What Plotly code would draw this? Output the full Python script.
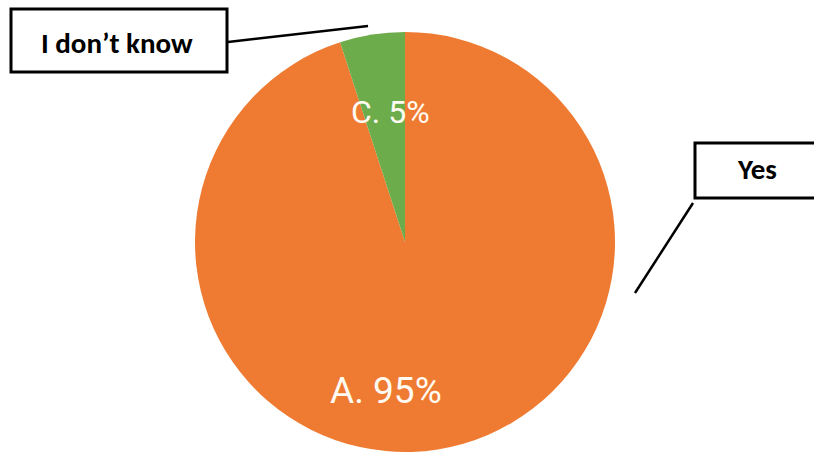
import plotly.graph_objects as go

# Survey answers
letters = ["A", "C"]
answers = ["Yes", "I don\u2019t know"]
shares = [95, 5]
colors = ["#EF7B32", "#6DAC4A"]

W, H = 814, 461


def px(x):
    return x / W


def py(y):
    return 1 - y / H


fig = go.Figure()
fig.add_trace(go.Pie(
    labels=answers,
    values=shares,
    sort=False,
    direction="clockwise",
    rotation=0,
    marker=dict(colors=colors, line=dict(width=0)),
    textinfo="none",
    hoverinfo="label+percent",
    showlegend=False,
    domain=dict(x=[px(195), px(615)], y=[py(452), py(32)]),
))

label_font = "Roboto, DejaVu Sans Condensed, sans-serif"
box_font = "Carlito, Lato, Open Sans, sans-serif"
annotations = [
    dict(x=px(390), y=py(112), text=f"{letters[1]}. {shares[1]}%",
         font=dict(family=label_font, size=32, color="#FFFBF2")),
    dict(x=px(386), y=py(390), text=f"{letters[0]}. {shares[0]}%",
         font=dict(family=label_font, size=37, color="#FFFBF2")),
    dict(x=px(117), y=py(43), text="<b>" + answers[1] + "</b>",
         font=dict(family=box_font, size=29, color="black")),
    dict(x=px(757), y=py(169), text="<b>" + answers[0] + "</b>",
         font=dict(family=box_font, size=29, color="black")),
]
for a in annotations:
    a.update(xref="paper", yref="paper", showarrow=False,
             xanchor="center", yanchor="middle")

box = dict(type="rect", xref="paper", yref="paper",
           line=dict(color="black", width=3), fillcolor="white", layer="above")
line = dict(type="line", xref="paper", yref="paper",
            line=dict(color="black", width=2.5))
shapes = [
    dict(box, x0=px(11), x1=px(227), y0=py(9), y1=py(72)),
    dict(line, x0=px(228), y0=py(42), x1=px(368), y1=py(26)),
    dict(box, x0=px(695), x1=px(830), y0=py(143), y1=py(198)),
    dict(line, x0=px(693), y0=py(203), x1=px(635), y1=py(293)),
]

fig.update_layout(
    width=W, height=H,
    margin=dict(l=0, r=0, t=0, b=0),
    paper_bgcolor="white",
    plot_bgcolor="white",
    annotations=annotations,
    shapes=shapes,
)

fig.write_html("out.html")
